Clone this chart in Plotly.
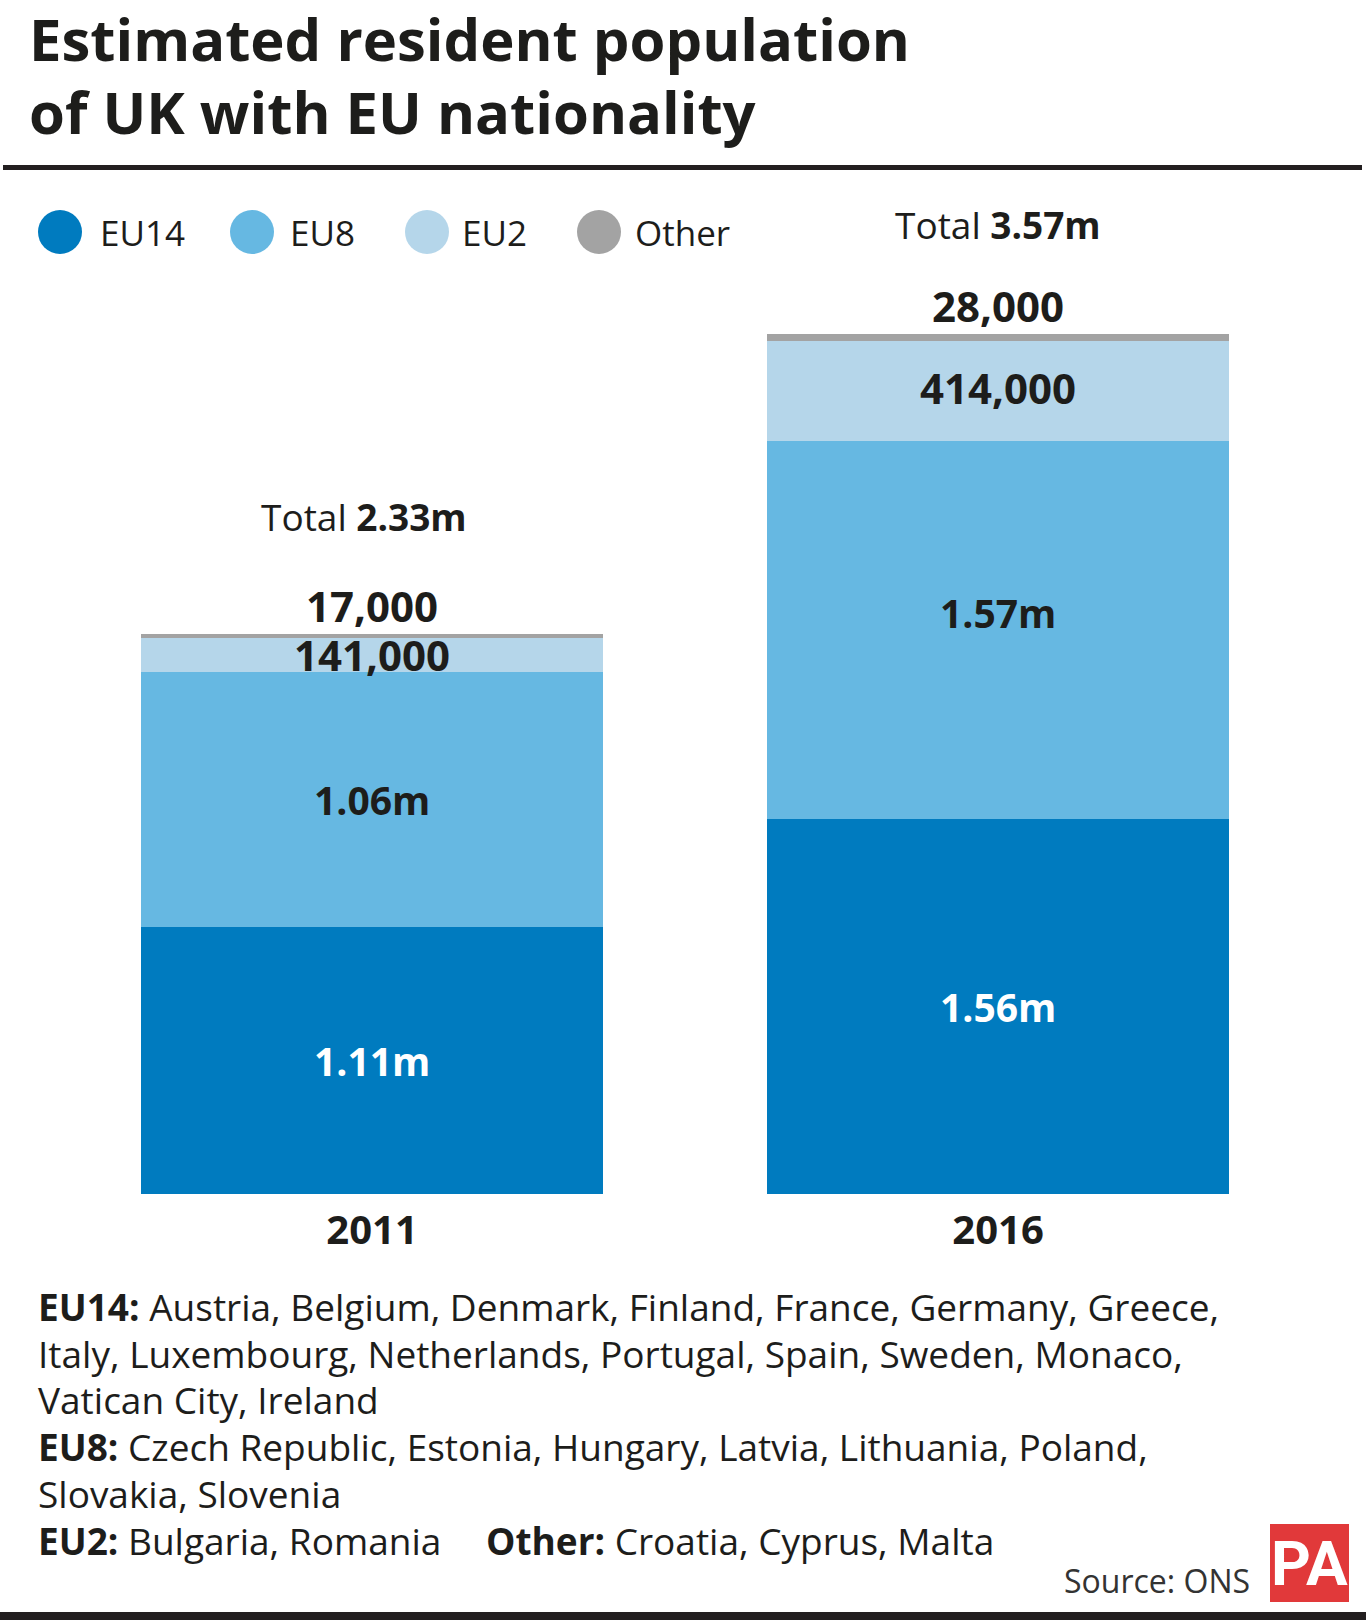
import plotly.graph_objects as go

# ---- data ----
years = ["2011", "2016"]
groups = ["EU14", "EU8", "EU2", "Other"]
eu14 = [1.11, 1.56]
eu8 = [1.06, 1.57]
eu2 = [0.141, 0.414]
other = [0.017, 0.028]
totals = [2.33, 3.57]
eu14_labels = ["1.11m", "1.56m"]
eu8_labels = ["1.06m", "1.57m"]
eu2_labels = ["141,000", "414,000"]
other_labels = ["17,000", "28,000"]
total_labels = ["2.33m", "3.57m"]
colors = {"EU14": "#007bbf", "EU8": "#66b8e2", "EU2": "#b5d6ea", "Other": "#a3a3a3"}
footnotes = [
    "<b>EU14:</b> Austria, Belgium, Denmark, Finland, France, Germany, Greece,",
    "Italy, Luxembourg, Netherlands, Portugal, Spain, Sweden, Monaco,",
    "Vatican City, Ireland",
    "<b>EU8:</b> Czech Republic, Estonia, Hungary, Latvia, Lithuania, Poland,",
    "Slovakia, Slovenia",
]
foot_eu2 = "<b>EU2:</b> Bulgaria, Romania"
foot_other = "<b>Other:</b> Croatia, Cyprus, Malta"

W, H = 1366, 1620
FONT = "Open Sans"
DARK = "#1d1d1b"


def px(x):
    return x / W


def py(y):
    return 1 - y / H


BAR_BOTTOM = 1194
PX_PER_M = 240.7
series = {"EU14": eu14, "EU8": eu8, "EU2": eu2, "Other": other}

fig = go.Figure()
for g in groups:
    fig.add_trace(go.Bar(x=years, y=series[g], name=g, marker_color=colors[g],
                         marker_line_width=0, width=0.738, showlegend=False,
                         hoverinfo="skip"))

ann = []
total_shift = [90, 82]
eu8_shift = [0, 17]
eu2_shift = [0, 3]
# segment labels (x = category index on the category axis)
for i, yr in enumerate(years):
    c1 = eu14[i]
    c2 = c1 + eu8[i]
    c3 = c2 + eu2[i]
    c4 = c3 + other[i]
    ann.append(dict(x=i, y=c1 / 2, text="<b>" + eu14_labels[i] + "</b>", showarrow=False,
                    font=dict(family=FONT, size=39, color="white")))
    ann.append(dict(x=i, y=(c1 + c2) / 2, text="<b>" + eu8_labels[i] + "</b>", showarrow=False,
                    yshift=eu8_shift[i], font=dict(family=FONT, size=39, color=DARK)))
    ann.append(dict(x=i, y=(c2 + c3) / 2, text="<b>" + eu2_labels[i] + "</b>", showarrow=False,
                    yshift=eu2_shift[i], font=dict(family=FONT, size=42, color=DARK)))
    ann.append(dict(x=i, y=c4, text="<b>" + other_labels[i] + "</b>", showarrow=False,
                    yanchor="bottom", yshift=-2,
                    font=dict(family=FONT, size=42, color=DARK)))
    ann.append(dict(x=i, y=c4, text="Total <b>" + total_labels[i] + "</b>", showarrow=False,
                    yanchor="bottom", yshift=total_shift[i], xshift=-8 if i == 0 else 0,
                    font=dict(family=FONT, size=37, color=DARK)))

# title
ann.append(dict(xref="paper", yref="paper", x=px(27), y=py(38), xanchor="left", yanchor="middle",
                text="<b>Estimated resident population</b>", showarrow=False,
                font=dict(family=FONT, size=58, color=DARK)))
ann.append(dict(xref="paper", yref="paper", x=px(27), y=py(111), xanchor="left", yanchor="middle",
                text="<b>of UK with EU nationality</b>", showarrow=False,
                font=dict(family=FONT, size=58, color=DARK)))

# legend
shapes = []
leg_cx = [60, 252, 427, 599]
leg_tx = [98, 288, 460, 633]
for g, cx, tx in zip(groups, leg_cx, leg_tx):
    shapes.append(dict(type="circle", xref="paper", yref="paper",
                       x0=px(cx - 22), x1=px(cx + 22), y0=py(232 + 22), y1=py(232 - 22),
                       fillcolor=colors[g], line_width=0))
    ann.append(dict(xref="paper", yref="paper", x=px(tx), y=py(232), xanchor="left",
                    yanchor="middle", text=g, showarrow=False,
                    font=dict(family=FONT, size=35, color=DARK)))

# rules
shapes.append(dict(type="rect", xref="paper", yref="paper", x0=px(3), x1=px(1362),
                   y0=py(170), y1=py(165), fillcolor="#231f20", line_width=0))
shapes.append(dict(type="rect", xref="paper", yref="paper", x0=0, x1=1,
                   y0=0, y1=py(1612), fillcolor="#231f20", line_width=0))

# footnotes
foot_y = [1306, 1353, 1399, 1446, 1493]
for t, yy in zip(footnotes, foot_y):
    ann.append(dict(xref="paper", yref="paper", x=px(36), y=py(yy), xanchor="left",
                    yanchor="middle", text=t, showarrow=False,
                    font=dict(family=FONT, size=37, color=DARK)))
ann.append(dict(xref="paper", yref="paper", x=px(36), y=py(1540), xanchor="left",
                yanchor="middle", text=foot_eu2, showarrow=False,
                font=dict(family=FONT, size=37, color=DARK)))
ann.append(dict(xref="paper", yref="paper", x=px(484), y=py(1540), xanchor="left",
                yanchor="middle", text=foot_other, showarrow=False,
                font=dict(family=FONT, size=37, color=DARK)))

# source + logo
ann.append(dict(xref="paper", yref="paper", x=px(1252), y=py(1580), xanchor="right",
                yanchor="middle", text="Source: ONS", showarrow=False,
                font=dict(family=FONT, size=32, color="#333333")))
shapes.append(dict(type="rect", xref="paper", yref="paper", x0=px(1270), x1=px(1349),
                   y0=py(1602), y1=py(1524), fillcolor="#e1393a", line_width=0))
ann.append(dict(xref="paper", yref="paper", x=px(1309.5), y=py(1563), xanchor="center",
                yanchor="middle", text="<b>PA</b>", showarrow=False,
                font=dict(family="Roboto", size=62, color="white")))

x0 = 372
unit = 626
fig.update_layout(
    width=W, height=H, margin=dict(l=0, r=0, t=0, b=0),
    paper_bgcolor="white", plot_bgcolor="white",
    barmode="stack", bargap=0,
    xaxis=dict(type="category", domain=[0, 1], range=[-x0 / unit, (W - x0) / unit],
               showgrid=False, zeroline=False, showline=False,
               ticks="", ticklen=0, ticklabelstandoff=9,
               tickfont=dict(family=FONT, size=40, color=DARK, weight="bold")),
    yaxis=dict(domain=[(H - BAR_BOTTOM) / H, 1], range=[0, BAR_BOTTOM / PX_PER_M],
               visible=False),
    annotations=ann, shapes=shapes, showlegend=False,
)

fig.write_html("out.html", config={"displayModeBar": False},
               post_script="document.body.style.margin='0';")
